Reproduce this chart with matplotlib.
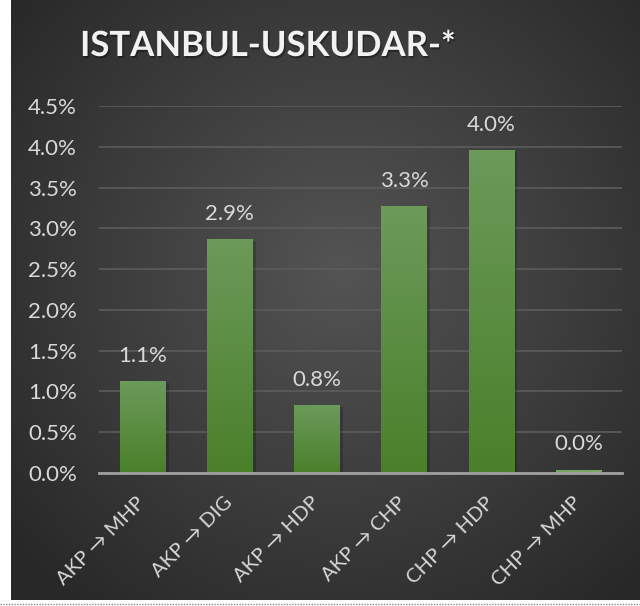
import numpy as np
import matplotlib
matplotlib.use("Agg")
import matplotlib.pyplot as plt
import matplotlib.patheffects as pe
from matplotlib.ticker import FuncFormatter, MultipleLocator

# ---- data ----
categories = ["AKP → MHP", "AKP → DIG", "AKP → HDP", "AKP → CHP", "CHP → HDP", "CHP → MHP"]
values = [1.13, 2.87, 0.83, 3.27, 3.96, 0.04]
value_labels = ["1.1%", "2.9%", "0.8%", "3.3%", "4.0%", "0.0%"]
title = "ISTANBUL-USKUDAR-*"

FONT = ["Lato", "DejaVu Sans"]
plt.rcParams["font.family"] = FONT

W, H = 640, 606
fig = plt.figure(figsize=(W / 100, H / 100), dpi=100)
fig.patch.set_facecolor("white")

# ---- background with radial gradient ----
bg = fig.add_axes([11 / W, 6 / H, 629 / W, 600 / H])
bg.set_axis_off()
yy, xx = np.mgrid[0:600, 0:629]
cx, cy = 330, 330
r = np.sqrt(((xx - cx) / 430) ** 2 + ((yy - cy) / 430) ** 2)
r = np.clip(r, 0, 1)
c0 = np.array([0x54, 0x54, 0x54]) / 255
c1 = np.array([0x28, 0x28, 0x28]) / 255
img = c0[None, None, :] * (1 - r[..., None]) + c1[None, None, :] * r[..., None]
bg.imshow(img, aspect="auto", extent=[0, 1, 0, 1], origin="lower")
bg.set_xlim(0, 1)
bg.set_ylim(0, 1)

# dotted bottom border
fig.add_artist(plt.Line2D([0, 1], [2.5 / H, 2.5 / H], transform=fig.transFigure,
                          color="#888888", lw=1, ls=(0, (1, 1))))

# ---- plot axes ----
left, right = 99 / W, 622 / W
bottom, top = (H - 473) / H, (H - 106) / H
ax = fig.add_axes([left, bottom, right - left, top - bottom])
ax.set_facecolor("none")
x = np.arange(len(categories))
ax.set_xlim(-0.5, len(categories) - 0.5)
ax.set_ylim(0, 4.5)
ax.yaxis.set_major_locator(MultipleLocator(0.5))
ax.yaxis.set_major_formatter(FuncFormatter(lambda v, p: f"{v:.1f}%"))
ax.grid(axis="y", color="#5c5c5c", lw=1.2, zorder=0)
ax.set_axisbelow(True)
for s in ["top", "right", "left"]:
    ax.spines[s].set_visible(False)
ax.spines["bottom"].set_color("#a0a0a0")
ax.spines["bottom"].set_linewidth(2)
ax.spines["bottom"].set_zorder(5)
ax.tick_params(axis="y", length=0, pad=16, labelcolor="#d9d9d9", labelsize=16)
ax.tick_params(axis="x", length=0, labelbottom=False)

bw = 0.52
bars = ax.bar(x, values, width=bw, color="#5a8a3c", zorder=3,
              path_effects=[pe.SimplePatchShadow(offset=(2.5, -1.5), shadow_rgbFace="black", alpha=0.18),
                            pe.Normal()])
grad = np.linspace(0, 1, 256)[:, None]
top_c = np.array([0x6c, 0x9a, 0x5a]) / 255
bot_c = np.array([0x4a, 0x80, 0x2a]) / 255
gimg = top_c[None, None, :] * grad[..., None] + bot_c[None, None, :] * (1 - grad[..., None])
for b, v in zip(bars, values):
    xi = b.get_x()
    im = ax.imshow(gimg, extent=[xi, xi + bw, 0, max(v, 0.001)], origin="lower",
                   aspect="auto", zorder=4)
    im.set_clip_path(b)
    if v < 0.1:
        im.set_data((top_c + 0.05).clip(0, 1)[None, None, :] * np.ones((2, 2, 1)))
ax.set_xlim(-0.5, len(categories) - 0.5)
ax.set_ylim(0, 4.5)

for xi, v, lab in zip(x, values, value_labels):
    ax.annotate(lab, (xi, v), xytext=(0, 11), textcoords="offset points",
                ha="center", va="bottom", color="#d9d9d9", fontsize=16, family=FONT)

for xi, lab in zip(x, categories):
    ax.annotate(lab, (xi, 0), xytext=(4, -15), textcoords="offset points",
                ha="right", va="top", rotation=45, rotation_mode="default",
                color="#d9d9d9", fontsize=14.5, family=FONT)

fig.text(268 / W, (H - 46) / H, title, ha="center", va="center", color="#f2f2f2",
         fontsize=25, fontweight="bold", family=FONT,
         path_effects=[pe.withSimplePatchShadow(offset=(1, -1.5), shadow_rgbFace="black", alpha=0.35)])

fig.savefig("out.png", dpi=100, facecolor=fig.get_facecolor())
